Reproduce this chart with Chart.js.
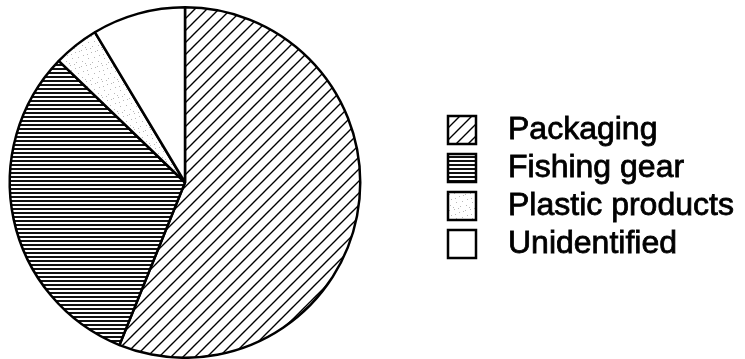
<!DOCTYPE html>
<html><head><meta charset="utf-8">
<script src="https://cdn.jsdelivr.net/npm/chart.js@4/dist/chart.umd.min.js"></script>
<style>html,body{margin:0;padding:0;background:#fff;}canvas{display:block;}</style>
</head><body>
<canvas id="c" width="745" height="359"></canvas>
<script>
// Data (shares of litter, percent)
const categories = ['Packaging', 'Fishing gear', 'Plastic products', 'Unidentified'];
const shares = [56.1, 31.1, 4.2, 8.6];

const canvas = document.getElementById('c');
const ctx = canvas.getContext('2d');

function makeTile(w, h, draw) {
  const t = document.createElement('canvas');
  t.width = w; t.height = h;
  const g = t.getContext('2d');
  g.fillStyle = '#fff'; g.fillRect(0, 0, w, h);
  draw(g, w, h);
  return ctx.createPattern(t, 'repeat');
}
const hatch = makeTile(12, 12, (g, s) => {
  g.strokeStyle = '#000'; g.lineWidth = 1.4; g.beginPath();
  g.moveTo(-3, s + 3); g.lineTo(s + 3, -3);
  g.moveTo(-3, 3); g.lineTo(3, -3);
  g.moveTo(s - 3, s + 3); g.lineTo(s + 3, s - 3);
  g.stroke();
});
const stripes = makeTile(8, 4, (g) => {
  g.fillStyle = '#111'; g.fillRect(0, 0, 8, 2);
});
const stipple = makeTile(16, 16, (g) => {
  g.fillStyle = '#b8b8b8';
  [[1,2],[6,1],[11,4],[14,9],[3,7],[8,10],[12,14],[2,13],[7,6],[5,15],[10,0],[15,3]]
    .forEach(([x, y]) => g.fillRect(x, y, 1, 1));
});
const fills = [hatch, stripes, stipple, '#ffffff'];

const LEG = { boxX: 448, box: 28, textX: 508, top: 130, step: 38, font: '32px "Liberation Sans", Arial, sans-serif' };

const sideLegend = {
  id: 'sideLegend',
  afterDraw(chart) {
    const c = chart.ctx;
    const bg = chart.data.datasets[0].backgroundColor;
    c.save();
    chart.data.labels.forEach((lab, i) => {
      const y = LEG.top + i * LEG.step;
      c.fillStyle = bg[i];
      c.fillRect(LEG.boxX, y - LEG.box / 2, LEG.box, LEG.box);
      c.lineWidth = 2.5; c.strokeStyle = '#000';
      c.strokeRect(LEG.boxX, y - LEG.box / 2, LEG.box, LEG.box);
      c.fillStyle = '#000'; c.font = LEG.font; c.textBaseline = 'middle';
      c.fillText(lab, LEG.textX, y);
      c.lineWidth = 0.8; c.strokeText(lab, LEG.textX, y);
    });
    c.restore();
  }
};

new Chart(ctx, {
  type: 'pie',
  data: {
    labels: categories,
    datasets: [{
      data: shares,
      backgroundColor: fills,
      borderColor: '#000',
      borderWidth: 2.5
    }]
  },
  options: {
    responsive: false,
    animation: false,
    layout: { padding: { left: 8, top: 6, right: 383, bottom: 0 } },
    plugins: { legend: { display: false }, tooltip: { enabled: false } }
  },
  plugins: [sideLegend]
});
</script>
</body></html>
